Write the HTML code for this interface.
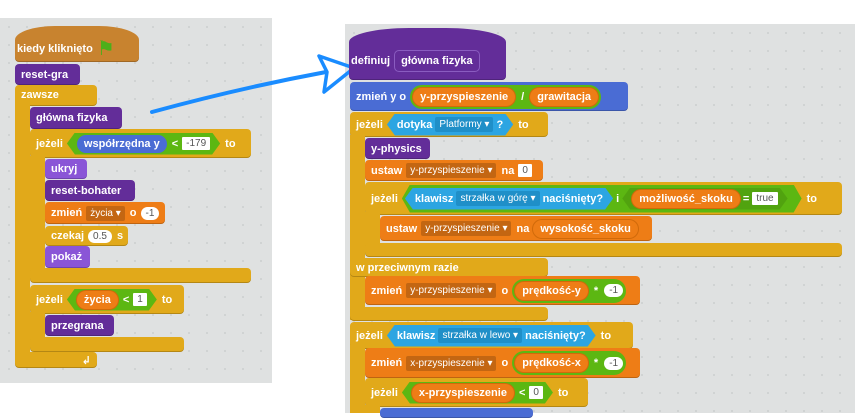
<!DOCTYPE html>
<html><head><meta charset="utf-8"><style>
*{margin:0;padding:0;box-sizing:border-box}
body{width:855px;height:413px;background:#fff;position:relative;overflow:hidden;font-family:"Liberation Sans","DejaVu Sans",sans-serif}
.bg{position:absolute;background:#dfe1e1;background-image:radial-gradient(#cfd2d2 1px,transparent 1.2px);background-size:18px 18px}
.b{position:absolute;border-radius:4px;color:#fff;font-weight:bold;font-size:11px;display:flex;align-items:center;padding-left:6px;white-space:nowrap;box-shadow:inset 0 -1px 0 rgba(0,0,0,.2)}
.b>*{margin-right:5px;margin-left:4px}
.ev{background:#c8832f}.pu{background:#632d99}.ct{background:#e1a91a}.vr{background:#ee7d16}.lk{background:#8a55d7}.mo{background:#4a6cd4}
.pill{border-radius:10px;padding:2px 7px;display:inline-flex;align-items:center;height:18px}
.op{background:#5cb712}.sn{background:#2ca5e2}.vo{background:#ee7d16;box-shadow:0 0 0 1px #d06a0a}
.hex{clip-path:polygon(8px 0,calc(100% - 8px) 0,100% 50%,calc(100% - 8px) 100%,8px 100%,0 50%);padding:0 10px;display:inline-flex;align-items:center;height:22px}
.in{background:#fff;color:#555;font-weight:normal;font-size:10px;padding:1px 4px;border-radius:1px}
.rn{background:#fff;color:#555;font-weight:normal;font-size:10px;padding:1px 5px;border-radius:8px}
.dd{background:rgba(0,0,0,.18);font-weight:normal;font-size:10px;padding:2px 4px;border-radius:2px}
.dd2{background:#1f8fc8;font-weight:normal;font-size:10px;padding:2px 4px;border-radius:2px}
.arm{position:absolute}
</style></head><body>
<div class="bg" style="left:0;top:18px;width:272px;height:365px"></div>
<div class="bg" style="left:345px;top:24px;width:510px;height:389px"></div>

<!-- LEFT -->
<div class="b ev" style="left:15px;top:26px;width:124px;height:36px;border-radius:40px 40px 4px 4px/14px 14px 4px 4px;padding-top:10px;padding-left:2px">kiedy kliknięto <span style="color:#4caf1a;font-size:20px;line-height:18px">⚑</span></div>
<div class="b pu" style="left:15px;top:64px;width:65px;height:21px">reset-gra</div>
<div class="b ct" style="left:15px;top:85px;width:82px;height:21px;align-items:flex-start;padding-top:4px">zawsze</div>
<div class="arm ct" style="left:15px;top:100px;width:15px;height:260px"></div>
<div class="b ct" style="left:15px;top:352px;width:82px;height:16px;justify-content:flex-end;padding-right:6px">↲</div>
<div class="b pu" style="left:30px;top:107px;width:92px;height:22px">główna fizyka</div>
<div class="b ct" style="left:30px;top:129px;width:221px;height:29px">jeżeli <span class="hex op"><span class="pill" style="background:#4a6cd4;margin-right:5px">współrzędna y</span>&lt; <span class="in" style="margin-left:4px">-179</span></span> to</div>
<div class="arm ct" style="left:30px;top:156px;width:15px;height:120px"></div>
<div class="b ct" style="left:30px;top:268px;width:221px;height:15px"></div>
<div class="b lk" style="left:45px;top:159px;width:42px;height:20px">ukryj</div>
<div class="b pu" style="left:45px;top:180px;width:90px;height:21px">reset-bohater</div>
<div class="b vr" style="left:45px;top:202px;width:120px;height:22px">zmień <span class="dd">życia ▾</span> o <span class="rn">-1</span></div>
<div class="b ct" style="left:45px;top:226px;width:83px;height:20px">czekaj <span class="rn">0.5</span> s</div>
<div class="b lk" style="left:45px;top:246px;width:45px;height:22px">pokaż</div>
<div class="b ct" style="left:30px;top:285px;width:154px;height:29px">jeżeli <span class="hex op"><span class="pill vo" style="margin-right:5px">życia</span>&lt; <span class="in" style="margin-left:4px">1</span></span> to</div>
<div class="arm ct" style="left:30px;top:312px;width:15px;height:35px"></div>
<div class="b pu" style="left:45px;top:315px;width:69px;height:21px">przegrana</div>
<div class="b ct" style="left:30px;top:337px;width:154px;height:15px"></div>

<!-- ARROW -->
<svg style="position:absolute;left:0;top:0" width="855" height="413">
<path d="M152,112 Q240,88 326,72" stroke="#1a8cff" stroke-width="4" fill="none" stroke-linecap="round"/>
<path d="M319,56 L354,68 L324,92 L327,72 Z" stroke="#1a8cff" stroke-width="3.5" fill="none" stroke-linejoin="round"/>
</svg>

<!-- RIGHT -->
<div class="b pu" style="left:349px;top:28px;width:157px;height:52px;border-radius:60px 60px 4px 4px/14px 14px 4px 4px;padding-top:14px;padding-left:2px">definiuj <span style="border:1px solid #8a5cc0;border-radius:5px;padding:4px 6px">główna fizyka</span></div>
<div class="b mo" style="left:350px;top:82px;width:278px;height:29px">zmień y o <span class="pill op" style="height:24px;padding:2px 3px;border-radius:12px"><span class="pill vo">y-przyspieszenie</span><span style="margin:0 6px">/</span><span class="pill vo">grawitacja</span></span></div>
<div class="b ct" style="left:350px;top:112px;width:198px;height:25px">jeżeli <span class="hex sn">dotyka&nbsp;<span class="dd2">Platformy ▾</span>&nbsp;?</span> to</div>
<div class="arm ct" style="left:350px;top:135px;width:15px;height:185px"></div>
<div class="b pu" style="left:365px;top:138px;width:65px;height:21px">y-physics</div>
<div class="b vr" style="left:365px;top:160px;width:178px;height:21px">ustaw <span class="dd">y-przyspieszenie ▾</span> na <span class="in">0</span></div>
<div class="b ct" style="left:365px;top:182px;width:477px;height:33px">jeżeli <span class="hex op" style="height:28px;padding:0 14px 0 3px"><span class="hex sn">klawisz&nbsp;<span class="dd2">strzałka w górę ▾</span>&nbsp;naciśnięty?</span>&nbsp;i&nbsp;<span class="hex op" style="box-shadow:none;background:#51a30f"><span class="pill vo">możliwość_skoku</span>&nbsp;=&nbsp;<span class="in">true</span></span></span> to</div>
<div class="arm ct" style="left:365px;top:212px;width:15px;height:35px"></div>
<div class="b vr" style="left:380px;top:216px;width:272px;height:25px">ustaw <span class="dd">y-przyspieszenie ▾</span> na <span class="pill vo">wysokość_skoku</span></div>
<div class="b ct" style="left:365px;top:243px;width:477px;height:14px"></div>
<div class="b ct" style="left:350px;top:258px;width:198px;height:19px">w przeciwnym razie</div>
<div class="b vr" style="left:365px;top:276px;width:275px;height:29px">zmień <span class="dd">y-przyspieszenie ▾</span> o <span class="pill op" style="height:24px;padding:2px 3px;border-radius:12px"><span class="pill vo">prędkość-y</span><span style="margin:0 6px">*</span><span class="rn">-1</span></span></div>
<div class="b ct" style="left:350px;top:307px;width:198px;height:14px"></div>
<div class="b ct" style="left:350px;top:322px;width:283px;height:27px">jeżeli <span class="hex sn">klawisz&nbsp;<span class="dd2">strzałka w lewo ▾</span>&nbsp;naciśnięty?</span> to</div>
<div class="arm ct" style="left:350px;top:345px;width:15px;height:68px"></div>
<div class="b vr" style="left:365px;top:348px;width:275px;height:30px">zmień <span class="dd">x-przyspieszenie ▾</span> o <span class="pill op" style="height:24px;padding:2px 3px;border-radius:12px"><span class="pill vo">prędkość-x</span><span style="margin:0 6px">*</span><span class="rn">-1</span></span></div>
<div class="b ct" style="left:365px;top:378px;width:223px;height:29px">jeżeli <span class="hex op"><span class="pill vo" style="margin-right:5px">x-przyspieszenie</span>&lt; <span class="in" style="margin-left:4px">0</span></span> to</div>
<div class="arm ct" style="left:365px;top:405px;width:15px;height:8px"></div>
<div class="b mo" style="left:380px;top:408px;width:153px;height:10px"></div>
</body></html>
